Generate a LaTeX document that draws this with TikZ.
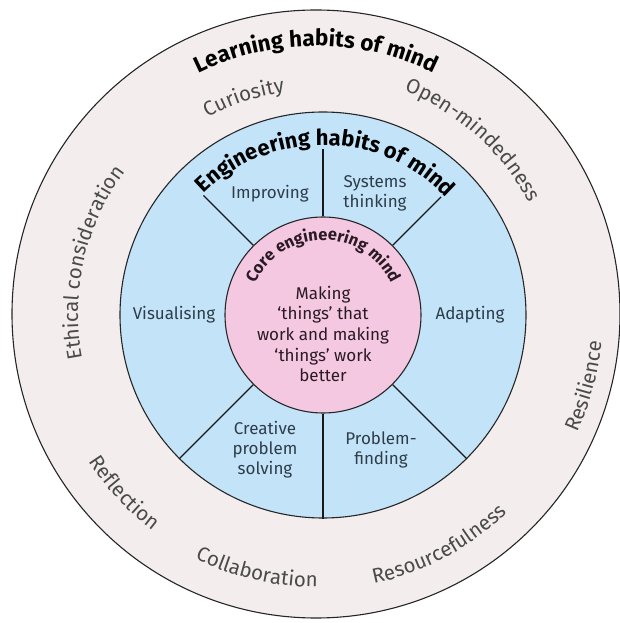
\documentclass[tikz,border=0pt]{standalone}
\usepackage{fontspec}
\setmainfont{Fira Sans}
\usetikzlibrary{decorations.text}
\definecolor{ringfill}{HTML}{F3EDEE}
\definecolor{bluefill}{HTML}{C3E4F8}
\definecolor{pinkfill}{HTML}{F4C8E0}
\definecolor{valtext}{HTML}{4A4A4A}
\definecolor{bluetext}{HTML}{2E3C4A}
\definecolor{coretext}{HTML}{2A1A25}
\newcommand\titlefnt{\fontsize{22.5}{22.5}\selectfont\bfseries}
\newcommand\engfnt{\fontsize{22}{22}\selectfont\bfseries}
\newcommand\corefnt{\fontsize{16.5}{16.5}\selectfont\bfseries}
\newcommand\valfnt{\fontsize{20.5}{20.5}\selectfont}
\newcommand\habfnt{\fontsize{17}{20}\selectfont}
\begin{document}
\begin{tikzpicture}[x=1pt,y=1pt,
  disc/.style={circle, draw=black!85, inner sep=0pt, line width=1.1pt},
  divider/.style={draw=black!90, line width=1.4pt},
  habit/.style={align=center, text=bluetext, font=\habfnt, inner sep=0pt},
  curved/.style={decorate, decoration={text along path, text align=center, text={#1}}}]
\useasboundingbox (-323,-308) rectangle (296,315);
\fill[white] (-323,-308) rectangle (296,315);
% discs
\node[disc, fill=ringfill, minimum size=608pt] (outer) at (-7,1) {};
\node[disc, fill=bluefill, minimum size=406pt] (blue) at (0,0) {};
\node[disc, fill=pinkfill, minimum size=196pt] (core) at (0,0) {};
% dividers
\coordinate (u90) at (90:166);
\coordinate (u45) at (45:167);
\coordinate (u135) at (135:169);
\draw[divider] (core.90) -- (u90);
\draw[divider] (core.45) -- (u45);
\draw[divider] (core.135) -- (u135);
\draw[divider] (core.225) -- (blue.225);
\draw[divider] (core.315) -- (blue.315);
\draw[divider] (core.270) -- (blue.270);
% habits
\node[habit] (improving) at (-53,121) {Improving};
\node[habit] (systems) at (52,122) {Systems\\thinking};
\node[habit] (visualising) at (-149,0) {Visualising};
\node[habit] (adapting) at (147,0) {Adapting};
\node[habit] (creative) at (-58,-135) {Creative\\problem\\solving};
\node[habit] (finding) at (58,-135) {Problem-\\finding};
\node[align=center, text=coretext, font=\fontsize{17}{20.7}\selectfont, inner sep=0pt] (making) at (0,-19)
  {Making\\`things' that\\work and making\\`things' work\\better};
% curved titles
\path[curved={|\titlefnt\color{black}|Learning habits of mind}]
  plot[domain=152:28, samples=100] ({-7+268*cos(\x)},{1+268*sin(\x)});
\path[curved={|\engfnt\color{black}|Engineering habits of mind}]
  plot[domain=155:23, samples=100] ({170*cos(\x)},{170*sin(\x)});
\path[curved={|\corefnt\color{coretext}|Core engineering mind}]
  plot[domain=179:1, samples=120] ({75*cos(\x)},{75*sin(\x)});
% outer values, top (outward)
\path[curved={|\valfnt\color{valtext}|Curiosity}]
  plot[domain=140:77, samples=60] ({-7+224*cos(\x)},{1+224*sin(\x)});
\path[curved={|\valfnt\color{valtext}|Open-mindedness}]
  plot[domain=95:1, samples=80] ({-7+240*cos(\x)},{1+240*sin(\x)});
\path[curved={|\valfnt\color{valtext}|Ethical consideration}]
  plot[domain=230:104, samples=100] ({-7+238*cos(\x)},{1+238*sin(\x)});
% outer values, bottom (inward)
\path[curved={|\valfnt\color{valtext}|Reflection}]
  plot[domain=190:256, samples=60] ({-7+271*cos(\x)},{1+271*sin(\x)});
\path[curved={|\valfnt\color{valtext}|Collaboration}]
  plot[domain=222:292, samples=60] ({-7+273*cos(\x)},{1+273*sin(\x)});
\path[curved={|\valfnt\color{valtext}|Resourcefulness}]
  plot[domain=258:338, samples=70] ({-7+276*cos(\x)},{1+276*sin(\x)});
\path[curved={|\valfnt\color{valtext}|Resilience}]
  plot[domain=318:372, samples=50] ({-7+287*cos(\x)},{1+287*sin(\x)});
\end{tikzpicture}
\end{document}
